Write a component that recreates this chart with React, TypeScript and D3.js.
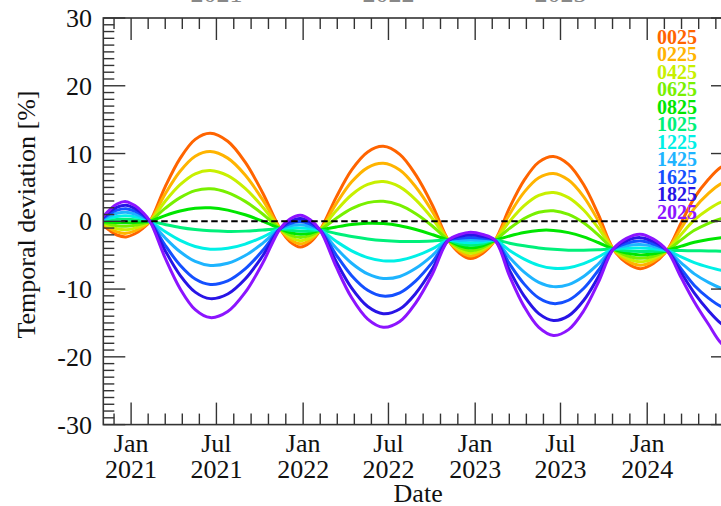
import React from "react";
import * as d3 from "d3";

// Sample dates shared by every series
const dates = [
  "2020-11-03", "2020-11-17", "2020-12-02", "2020-12-21", "2021-01-09", "2021-01-26", "2021-02-10",
  "2021-03-14", "2021-04-15", "2021-05-17", "2021-06-18", "2021-07-25", "2021-08-31", "2021-10-07", "2021-11-13",
  "2021-12-04", "2021-12-26", "2022-01-16", "2022-02-06",
  "2022-03-12", "2022-04-14", "2022-05-18", "2022-06-20", "2022-07-25", "2022-08-28", "2022-10-02", "2022-11-05",
  "2022-11-29", "2022-12-22", "2023-01-17", "2023-02-12",
  "2023-03-15", "2023-04-15", "2023-05-16", "2023-06-16", "2023-07-18", "2023-08-19", "2023-09-19", "2023-10-21",
  "2023-11-18", "2023-12-17", "2024-01-14", "2024-02-12",
  "2024-03-13", "2024-04-10", "2024-05-10", "2024-06-06", "2024-07-04",
];

const seriesNames = ["0025", "0225", "0425", "0625", "0825", "1025", "1225", "1425", "1625", "1825", "2025"];
const seriesColors = [
  "#ff6400", "#ffb400", "#c8f000", "#78f000", "#00e600", "#00f07a",
  "#00f0e6", "#1eb4ff", "#1450ff", "#2814e6", "#8c14ff",
];

const v0025 = [-0.58, -1.38, -2.02, -2.3, -1.84, -1.04, 0,
  5.04, 9.28, 12.09, 12.99, 11.81, 8.73, 4.22, -1.1,
  -2.99, -3.8, -3.09, -1.3,
  3.53, 7.59, 10.24, 11.06, 9.87, 6.84, 2.41, -2.8,
  -4.71, -5.5, -4.71, -2.8,
  2.02, 6.07, 8.73, 9.56, 8.4, 5.42, 1.05, -4.1,
  -6.13, -7.0, -6.23, -4.3,
  -0.23, 3.45, 6.19, 8.0, 8.75];
const v0225 = [-0.45, -1.07, -1.57, -1.78, -1.42, -0.8, 0,
  4.01, 7.38, 9.6, 10.29, 9.32, 6.83, 3.19, -1.1,
  -2.66, -3.33, -2.76, -1.3,
  2.57, 5.82, 7.93, 8.56, 7.56, 5.07, 1.45, -2.8,
  -4.43, -5.11, -4.43, -2.8,
  1.06, 4.3, 6.42, 7.06, 6.09, 3.65, 0.09, -4.1,
  -5.77, -6.49, -5.87, -4.3,
  -1.03, 1.91, 4.11, 5.56, 6.15];
const v0425 = [-0.32, -0.76, -1.11, -1.26, -1.01, -0.57, 0,
  2.93, 5.4, 7.01, 7.49, 6.73, 4.85, 2.11, -1.1,
  -2.32, -2.86, -2.42, -1.3,
  1.54, 3.92, 5.44, 5.86, 5.07, 3.17, 0.42, -2.8,
  -4.16, -4.72, -4.16, -2.8,
  -0.01, 2.32, 3.83, 4.26, 3.5, 1.67, -0.98, -4.1,
  -5.41, -5.98, -5.51, -4.3,
  -1.93, 0.2, 1.79, 2.83, 3.25];
const v0625 = [-0.19, -0.44, -0.65, -0.74, -0.59, -0.33, 0,
  1.9, 3.49, 4.52, 4.79, 4.24, 2.94, 1.08, -1.1,
  -1.99, -2.39, -2.09, -1.3,
  0.43, 1.87, 2.76, 2.96, 2.39, 1.12, -0.69, -2.8,
  -3.88, -4.33, -3.88, -2.8,
  -1.04, 0.42, 1.34, 1.56, 1.01, -0.23, -2.01, -4.1,
  -5.05, -5.47, -5.15, -4.3,
  -2.74, -1.33, -0.29, 0.39, 0.65];
const v0825 = [-0.06, -0.13, -0.19, -0.22, -0.18, -0.1, 0,
  0.83, 1.51, 1.93, 1.99, 1.65, 0.96, 0.01, -1.1,
  -1.66, -1.92, -1.76, -1.3,
  -0.84, -0.47, -0.29, -0.34, -0.66, -1.22, -1.96, -2.8,
  -3.61, -3.94, -3.61, -2.8,
  -2.16, -1.64, -1.34, -1.34, -1.67, -2.29, -3.13, -4.1,
  -4.69, -4.96, -4.79, -4.3,
  -3.67, -3.1, -2.69, -2.43, -2.35];
const v1025 = [0.08, 0.18, 0.26, 0.3, 0.24, 0.14, 0,
  -0.47, -0.9, -1.21, -1.41, -1.49, -1.45, -1.29, -1.1,
  -1.33, -1.45, -1.43, -1.3,
  -1.8, -2.24, -2.6, -2.84, -2.97, -2.99, -2.92, -2.8,
  -3.33, -3.55, -3.33, -2.8,
  -3.23, -3.61, -3.93, -4.14, -4.26, -4.26, -4.2, -4.1,
  -4.33, -4.45, -4.43, -4.3,
  -4.32, -4.34, -4.37, -4.41, -4.45];
const v1225 = [0.21, 0.49, 0.72, 0.82, 0.66, 0.37, 0,
  -1.51, -2.81, -3.71, -4.11, -3.99, -3.36, -2.33, -1.1,
  -0.99, -0.98, -1.09, -1.3,
  -2.95, -4.36, -5.37, -5.84, -5.74, -5.11, -4.07, -2.8,
  -3.05, -3.16, -3.05, -2.8,
  -4.3, -5.59, -6.51, -6.94, -6.84, -6.24, -5.27, -4.1,
  -3.97, -3.94, -4.07, -4.3,
  -5.25, -6.11, -6.77, -7.23, -7.45];
const v1425 = [0.34, 0.8, 1.18, 1.34, 1.07, 0.6, 0,
  -2.43, -4.5, -5.92, -6.51, -6.2, -5.05, -3.25, -1.1,
  -0.66, -0.51, -0.76, -1.3,
  -3.94, -6.19, -7.77, -8.44, -8.14, -6.94, -5.06, -2.8,
  -2.78, -2.77, -2.78, -2.8,
  -5.33, -7.5, -9.01, -9.64, -9.34, -8.15, -6.3, -4.1,
  -3.61, -3.43, -3.71, -4.3,
  -6.12, -7.76, -9.01, -9.86, -10.25];
const v1625 = [0.47, 1.12, 1.64, 1.86, 1.49, 0.84, 0,
  -3.5, -6.48, -8.51, -9.31, -8.79, -7.03, -4.32, -1.1,
  -0.33, -0.04, -0.43, -1.3,
  -4.94, -8.03, -10.18, -11.04, -10.55, -8.78, -6.06, -2.8,
  -2.5, -2.38, -2.5, -2.8,
  -6.29, -9.27, -11.32, -12.14, -11.65, -9.92, -7.26, -4.1,
  -3.25, -2.92, -3.35, -4.3,
  -7.02, -9.47, -11.33, -12.58, -13.15];
const v1825 = [0.6, 1.43, 2.09, 2.38, 1.9, 1.07, 0,
  -4.3, -7.97, -10.45, -11.41, -10.73, -8.52, -5.12, -1.1,
  0.0, 0.43, -0.1, -1.3,
  -5.93, -9.87, -12.58, -13.64, -12.95, -10.62, -7.05, -2.8,
  -2.23, -1.99, -2.23, -2.8,
  -7.25, -11.04, -13.63, -14.64, -13.96, -11.69, -8.22, -4.1,
  -2.88, -2.41, -2.98, -4.3,
  -7.6, -10.6, -13.2, -15.1, -16.2];
const v2025 = [0.73, 1.74, 2.55, 2.9, 2.32, 1.31, 0,
  -5.38, -9.95, -13.04, -14.21, -13.32, -10.5, -6.2, -1.1,
  0.33, 0.9, 0.23, -1.3,
  -6.7, -11.29, -14.43, -15.64, -14.8, -12.04, -7.82, -2.8,
  -1.95, -1.6, -1.95, -2.8,
  -8.09, -12.59, -15.66, -16.84, -15.99, -13.24, -9.06, -4.1,
  -2.52, -1.9, -2.62, -4.3,
  -8.3, -11.9, -15.2, -18.0, -19.4];

const seriesValues = [v0025, v0225, v0425, v0625, v0825, v1025, v1225, v1425, v1625, v1825, v2025];

const yMajorTicks = [30, 20, 10, 0, -10, -20, -30];
const xMajorDates = ["2021-01-01", "2021-07-01", "2022-01-01", "2022-07-01", "2023-01-01", "2023-07-01", "2024-01-01", "2024-07-01"];
const xMonthLabels = ["Jan", "Jul", "Jan", "Jul", "Jan", "Jul", "Jan"];
const xYearLabels = ["2021", "2021", "2022", "2022", "2023", "2023", "2024"];
const topYearDates = ["2021-07-01", "2022-07-01", "2023-07-01"];
const topYearLabels = ["2021", "2022", "2023"];

const FONT = "'Liberation Serif', 'Times New Roman', serif";

export default function App() {
  const parse = d3.utcParse("%Y-%m-%d");
  const x = d3.scaleUtc()
    .domain([parse("2020-11-03") as Date, parse("2024-07-01") as Date])
    .range([103.3, 733]);
  const y = d3.scaleLinear().domain([-30, 30]).range([424.6, 18]);

  const left = x.range()[0];
  const right = x.range()[1];
  const top = y(30);
  const bottom = y(-30);

  const parsedDates = dates.map((d) => parse(d) as Date);
  const line = d3.line<[Date, number]>()
    .x((d) => x(d[0]))
    .y((d) => y(d[1]))
    .curve(d3.curveCatmullRom.alpha(0.5));

  // x ticks
  const majorX = xMajorDates.map((d) => x(parse(d) as Date));
  const minorX: number[] = [];
  for (let i = 0; i < majorX.length - 1; i++) {
    const step = (majorX[i + 1] - majorX[i]) / 5;
    for (let k = 1; k < 5; k++) minorX.push(majorX[i] + k * step);
  }
  {
    const step = (majorX[1] - majorX[0]) / 5;
    for (let p = majorX[0] - step; p >= left; p -= step) minorX.push(p);
  }
  const yMinor = d3.range(-30, 31, 1).filter((v) => v % 10 !== 0);

  const axisColor = "#333";
  const majorLen = 22;
  const minorLen = 11;

  return (
    <svg
      width={721}
      height={506}
      style={{ position: "absolute", left: 0, top: 0, background: "#fff" }}
      fontFamily={FONT}
    >
      <defs>
        <clipPath id="plotClip">
          <rect x={left} y={top} width={right - left} height={bottom - top} />
        </clipPath>
      </defs>

      {/* cut-off top labels */}
      {topYearLabels.map((t, i) => (
        <text key={"ty" + i} x={x(parse(topYearDates[i]) as Date)} y={2} fontSize={26}
          textAnchor="middle" fill="#888">{t}</text>
      ))}

      {/* series */}
      <g clipPath="url(#plotClip)">
        {seriesValues.map((vals, si) => (
          <path
            key={seriesNames[si]}
            d={line(vals.map((v, i) => [parsedDates[i], v] as [Date, number])) || ""}
            fill="none"
            stroke={seriesColors[si]}
            strokeWidth={3}
            strokeLinejoin="round"
            strokeLinecap="round"
          />
        ))}
        <line x1={x(parse("2020-12-11") as Date)} x2={right} y1={y(0)} y2={y(0)}
          stroke="#000" strokeWidth={2} strokeDasharray="6.5,3.5" />
      </g>

      {/* frame */}
      <rect x={left} y={top} width={right - left} height={bottom - top} fill="none"
        stroke={axisColor} strokeWidth={1.6} />

      {/* x ticks top & bottom */}
      {majorX.map((px, i) => (
        <g key={"mx" + i}>
          <line x1={px} x2={px} y1={top} y2={top + majorLen} stroke={axisColor} strokeWidth={1.4} />
          <line x1={px} x2={px} y1={bottom} y2={bottom - majorLen} stroke={axisColor} strokeWidth={1.4} />
        </g>
      ))}
      {minorX.map((px, i) => (
        <g key={"nx" + i}>
          <line x1={px} x2={px} y1={top} y2={top + minorLen} stroke={axisColor} strokeWidth={1.4} />
          <line x1={px} x2={px} y1={bottom} y2={bottom - minorLen} stroke={axisColor} strokeWidth={1.4} />
        </g>
      ))}

      {/* y ticks left & right */}
      {yMajorTicks.map((v) => (
        <g key={"my" + v}>
          <line x1={left} x2={left + majorLen} y1={y(v)} y2={y(v)} stroke={axisColor} strokeWidth={1.4} />
          <line x1={right} x2={right - majorLen} y1={y(v)} y2={y(v)} stroke={axisColor} strokeWidth={1.4} />
        </g>
      ))}
      {yMinor.map((v) => (
        <g key={"ny" + v}>
          <line x1={left} x2={left + minorLen} y1={y(v)} y2={y(v)} stroke={axisColor} strokeWidth={1.4} />
          <line x1={right} x2={right - minorLen} y1={y(v)} y2={y(v)} stroke={axisColor} strokeWidth={1.4} />
        </g>
      ))}

      {/* y tick labels */}
      {yMajorTicks.map((v) => (
        <text key={"yl" + v} x={92} y={y(v) + 9} fontSize={26} textAnchor="end" fill="#111">{v}</text>
      ))}

      {/* x tick labels */}
      {xMonthLabels.map((m, i) => (
        <g key={"xl" + i}>
          <text x={majorX[i]} y={452} fontSize={26} textAnchor="middle" fill="#111">{m}</text>
          <text x={majorX[i]} y={478} fontSize={26} textAnchor="middle" fill="#111">{xYearLabels[i]}</text>
        </g>
      ))}

      {/* axis titles */}
      <text x={(left + right) / 2} y={502} fontSize={26} textAnchor="middle" fill="#111">Date</text>
      <text transform={`translate(35,${y(1)}) rotate(-90)`} fontSize={26} textAnchor="middle" fill="#111">
        Temporal deviation [%]
      </text>

      {/* legend */}
      {seriesNames.map((n, i) => (
        <text key={"lg" + n} x={697} y={43.5 + i * 17.55} fontSize={20} fontWeight="bold"
          textAnchor="end" fill={seriesColors[i]}>{n}</text>
      ))}
    </svg>
  );
}
